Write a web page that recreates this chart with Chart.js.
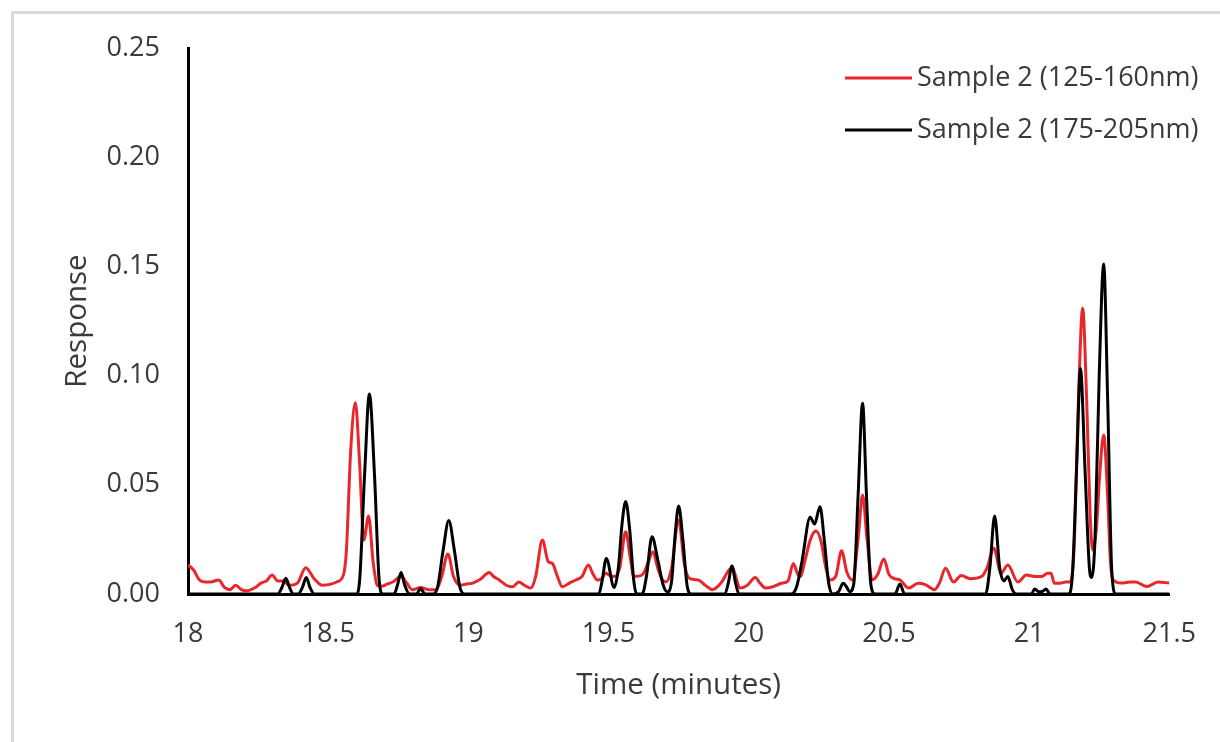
<!DOCTYPE html>
<html>
<head>
<meta charset="utf-8">
<script src="https://cdn.jsdelivr.net/npm/chart.js@4.4.1/dist/chart.umd.min.js"></script>
<style>
    html, body { margin: 0; padding: 0; background: #fff; }
    #wrap { width: 1220px; height: 742px; }
</style>
</head>
<body>
<div id="wrap"><canvas id="chart" width="1220" height="742"></canvas></div>
<script>
const xTicks = [18, 18.5, 19, 19.5, 20, 20.5, 21, 21.5];
const yTicks = [0, 0.05, 0.10, 0.15, 0.20, 0.25];

const redLabel = 'Sample 2 (125-160nm)';
const redTime = [
    18.00, 18.02, 18.04, 18.06, 18.08, 18.11, 18.13, 18.15, 18.17, 18.19,
    18.21, 18.24, 18.26, 18.28, 18.30, 18.32, 18.34, 18.36, 18.39, 18.42,
    18.45, 18.48, 18.51, 18.53, 18.555, 18.565, 18.58, 18.597, 18.612, 18.627,
    18.644, 18.66, 18.675, 18.69, 18.71, 18.73, 18.76, 18.78, 18.80, 18.83,
    18.86, 18.885, 18.905, 18.927, 18.947, 18.97, 18.99, 19.015, 19.04, 19.075,
    19.09, 19.11, 19.135, 19.157, 19.18, 19.20, 19.222, 19.24, 19.264, 19.285,
    19.30, 19.315, 19.335, 19.36, 19.383, 19.405, 19.428, 19.445, 19.46, 19.475,
    19.49, 19.505, 19.52, 19.54, 19.561, 19.578, 19.59, 19.62, 19.64, 19.658,
    19.675, 19.69, 19.705, 19.725, 19.75, 19.77, 19.79, 19.82, 19.845, 19.87,
    19.90, 19.94, 19.97, 19.995, 20.023, 20.04, 20.06, 20.09, 20.117, 20.14,
    20.159, 20.175, 20.185, 20.20, 20.22, 20.24, 20.258, 20.275, 20.29, 20.31,
    20.331, 20.35, 20.37, 20.39, 20.406, 20.422, 20.44, 20.46, 20.482, 20.50,
    20.52, 20.54, 20.57, 20.604, 20.63, 20.663, 20.68, 20.702, 20.73, 20.758,
    20.79, 20.83, 20.85, 20.874, 20.90, 20.924, 20.96, 20.99, 21.02, 21.045,
    21.066, 21.078, 21.09, 21.11, 21.13, 21.145, 21.16, 21.175, 21.191, 21.205,
    21.218, 21.227, 21.24, 21.252, 21.266, 21.28, 21.29, 21.30, 21.33, 21.36,
    21.38, 21.42, 21.46, 21.50
];
const redResp = [
    0.0133, 0.011, 0.0065, 0.0055, 0.0055, 0.0064, 0.003, 0.002, 0.004, 0.002,
    0.0015, 0.003, 0.005, 0.006, 0.0087, 0.006, 0.006, 0.004, 0.005, 0.012,
    0.007, 0.004, 0.0045, 0.0055, 0.009, 0.02, 0.065, 0.0876, 0.06, 0.0247,
    0.0357, 0.015, 0.004, 0.0035, 0.0045, 0.0055, 0.008, 0.005, 0.002, 0.003,
    0.002, 0.002, 0.008, 0.0183, 0.008, 0.004, 0.0045, 0.005, 0.0065, 0.0098,
    0.008, 0.0064, 0.004, 0.0033, 0.0055, 0.004, 0.0027, 0.008, 0.0247, 0.0148,
    0.014, 0.009, 0.0033, 0.005, 0.0064, 0.008, 0.0133, 0.009, 0.0064, 0.007,
    0.0095, 0.0085, 0.008, 0.012, 0.0285, 0.016, 0.008, 0.0087, 0.014, 0.0194,
    0.012, 0.007, 0.0055, 0.012, 0.0339, 0.014, 0.007, 0.0064, 0.004, 0.002,
    0.0049, 0.012, 0.0027, 0.004, 0.0076, 0.005, 0.0027, 0.0035, 0.0049, 0.006,
    0.014, 0.009, 0.008, 0.015, 0.025, 0.0288, 0.024, 0.012, 0.0064, 0.008,
    0.0198, 0.01, 0.0064, 0.025, 0.0453, 0.025, 0.0064, 0.009, 0.016, 0.009,
    0.007, 0.0064, 0.0027, 0.0049, 0.0043, 0.002, 0.005, 0.0118, 0.0055, 0.0085,
    0.007, 0.008, 0.012, 0.0209, 0.0095, 0.0133, 0.0055, 0.0087, 0.008, 0.008,
    0.0095, 0.0095, 0.0049, 0.0049, 0.0055, 0.0055, 0.02, 0.085, 0.1308, 0.09,
    0.035, 0.0201, 0.03, 0.055, 0.0728, 0.045, 0.015, 0.0064, 0.005, 0.0055,
    0.0055, 0.0034, 0.0055, 0.005
];

const blackLabel = 'Sample 2 (175-205nm)';
const blackTime = [
    18.00, 18.32, 18.335, 18.349, 18.362, 18.376, 18.393, 18.408, 18.422, 18.435,
    18.45, 18.60, 18.612, 18.63, 18.647, 18.665, 18.682, 18.695, 18.735, 18.747,
    18.76, 18.773, 18.79, 18.815, 18.83, 18.845, 18.875, 18.89, 18.91, 18.93,
    18.95, 18.97, 18.985, 19.465, 19.477, 19.492, 19.52, 19.535, 19.548, 19.561,
    19.575, 19.59, 19.60, 19.62, 19.635, 19.655, 19.675, 19.695, 19.71, 19.725,
    19.738, 19.75, 19.765, 19.78, 19.795, 19.915, 19.927, 19.94, 19.953, 19.965,
    20.15, 20.17, 20.19, 20.219, 20.235, 20.254, 20.27, 20.285, 20.30, 20.32,
    20.337, 20.35, 20.36, 20.375, 20.39, 20.406, 20.42, 20.435, 20.45, 20.522,
    20.539, 20.556, 20.845, 20.86, 20.877, 20.895, 20.91, 20.924, 20.94, 20.955,
    21.008, 21.02, 21.035, 21.048, 21.06, 21.075, 21.14, 21.155, 21.17, 21.183,
    21.20, 21.215, 21.223, 21.235, 21.25, 21.266, 21.28, 21.295, 21.31, 21.50
];
const blackResp = [
    0.000, 0.000, 0.003, 0.0072, 0.003, 0.000, 0.000, 0.003, 0.0075, 0.003,
    0.000, 0.000, 0.006, 0.055, 0.0916, 0.055, 0.006, 0.000, 0.000, 0.004,
    0.0098, 0.004, 0.000, 0.000, 0.0025, 0.000, 0.000, 0.003, 0.020, 0.0336,
    0.020, 0.003, 0.000, 0.000, 0.006, 0.0163, 0.003, 0.012, 0.032, 0.0423,
    0.030, 0.006, 0.000, 0.000, 0.008, 0.0262, 0.016, 0.004, 0.001, 0.006,
    0.028, 0.0403, 0.025, 0.004, 0.000, 0.000, 0.005, 0.0128, 0.005, 0.000,
    0.000, 0.003, 0.015, 0.0351, 0.032, 0.040, 0.024, 0.005, 0.000, 0.001,
    0.0049, 0.003, 0.001, 0.005, 0.045, 0.0873, 0.045, 0.005, 0.000, 0.000,
    0.0046, 0.000, 0.000, 0.012, 0.0357, 0.012, 0.006, 0.008, 0.002, 0.000,
    0.000, 0.0023, 0.001, 0.0012, 0.0023, 0.000, 0.000, 0.010, 0.060, 0.1033,
    0.055, 0.012, 0.0076, 0.025, 0.100, 0.1511, 0.090, 0.010, 0.000, 0.000
];

const textColor = '#3a3a3a';
const fontFamily = '"Open Sans", sans-serif';

function toPoints(times, values) {
    return times.map((t, i) => ({ x: t, y: values[i] }));
}

// grey frame around the chart (only top/left edges fall inside the window)
const framePlugin = {
    id: 'frame',
    beforeDraw(chart) {
        const ctx = chart.ctx;
        ctx.save();
        ctx.fillStyle = '#fff';
        ctx.fillRect(0, 0, chart.width, chart.height);
        ctx.strokeStyle = '#d9d9d9';
        ctx.lineWidth = 3;
        ctx.strokeRect(12.5, 12.5, chart.width + 20, chart.height + 20);
        ctx.restore();
    }
};

// legend drawn by hand at the top right, in dataset order
const legendPlugin = {
    id: 'sideLegend',
    afterDraw(chart) {
        const ctx = chart.ctx;
        ctx.save();
        ctx.font = '27px ' + fontFamily;
        ctx.textBaseline = 'middle';
        ctx.fillStyle = textColor;
        chart.data.datasets.forEach((ds, i) => {
            const y = 78 + i * 52;
            ctx.strokeStyle = ds.borderColor;
            ctx.lineWidth = 3;
            ctx.beginPath();
            ctx.moveTo(845, y);
            ctx.lineTo(912, y);
            ctx.stroke();
            ctx.fillText(ds.label, 917, y);
        });
        ctx.restore();
    }
};

new Chart(document.getElementById('chart'), {
    type: 'line',
    data: {
        datasets: [
            {
                label: redLabel,
                data: toPoints(redTime, redResp),
                borderColor: '#e8262b',
                borderWidth: 3,
                pointRadius: 0,
                cubicInterpolationMode: 'monotone',
                order: 1
            },
            {
                label: blackLabel,
                data: toPoints(blackTime, blackResp),
                borderColor: '#000000',
                borderWidth: 3,
                pointRadius: 0,
                cubicInterpolationMode: 'monotone',
                order: 0
            }
        ]
    },
    options: {
        responsive: false,
        animation: false,
        layout: {
            padding: { top: 48, right: 48, left: 0, bottom: 0 }
        },
        plugins: {
            legend: { display: false },
            tooltip: { enabled: false }
        },
        scales: {
            x: {
                type: 'linear',
                min: 18,
                max: 21.5,
                afterFit: scale => { scale.height = 148; },
                afterBuildTicks: scale => { scale.ticks = xTicks.map(v => ({ value: v })); },
                grid: { display: false, drawTicks: false },
                border: { display: true, color: '#000', width: 3 },
                ticks: {
                    padding: 24,
                    color: textColor,
                    font: { family: fontFamily, size: 27 },
                    maxRotation: 0,
                    callback: v => String(v)
                },
                title: {
                    display: true,
                    text: 'Time (minutes)',
                    color: textColor,
                    font: { family: fontFamily, size: 29.5 },
                    padding: { top: 0, bottom: 39 }
                }
            },
            y: {
                type: 'linear',
                min: 0,
                max: 0.25,
                afterFit: scale => { scale.width = 188; },
                afterBuildTicks: scale => { scale.ticks = yTicks.map(v => ({ value: v })); },
                grid: { display: false, drawTicks: false },
                border: { display: true, color: '#000', width: 3 },
                ticks: {
                    padding: 28,
                    color: textColor,
                    font: { family: fontFamily, size: 27 },
                    callback: v => v.toFixed(2)
                },
                title: {
                    display: true,
                    text: 'Response',
                    color: textColor,
                    font: { family: fontFamily, size: 29.5 },
                    padding: { top: 60, bottom: 0 }
                }
            }
        }
    },
    plugins: [framePlugin, legendPlugin]
});
</script>
</body>
</html>
